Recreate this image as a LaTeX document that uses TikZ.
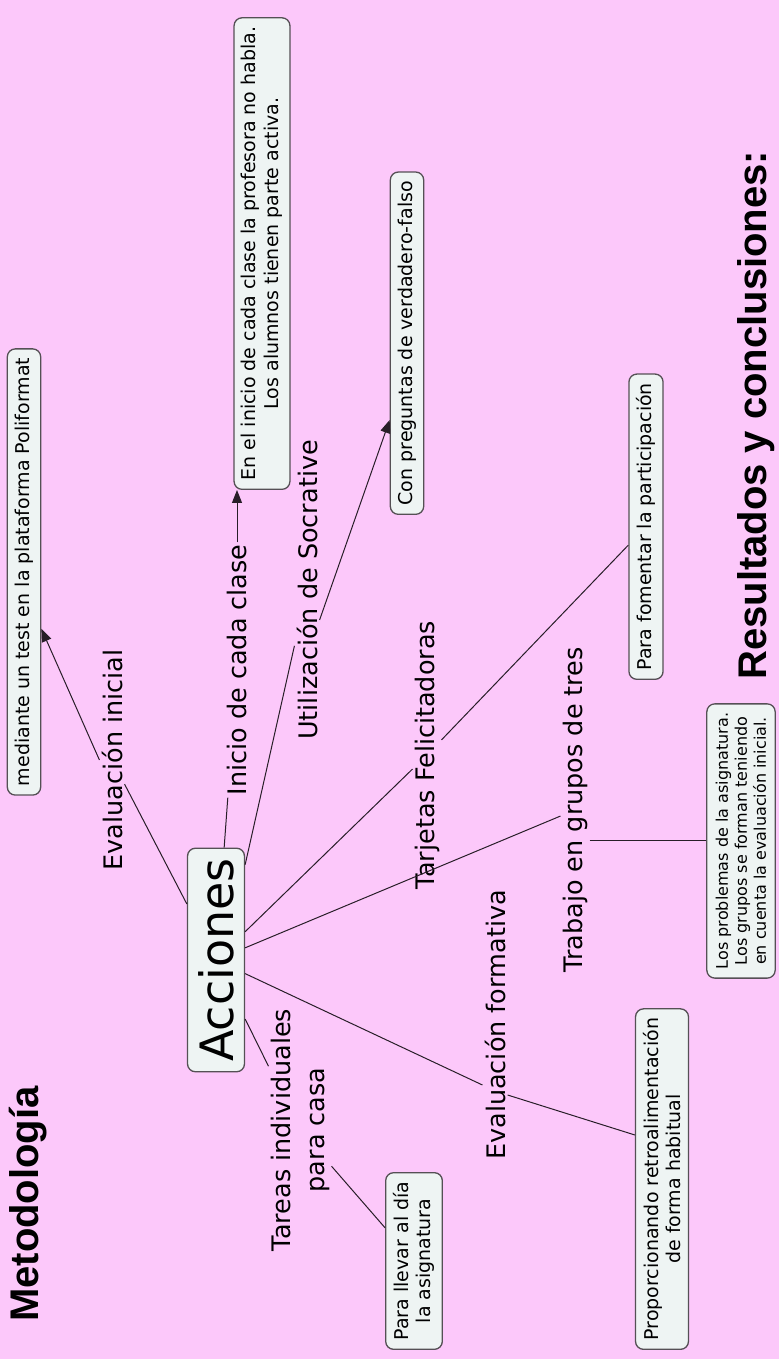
\documentclass[tikz,border=0pt]{standalone}
\usepackage{fontspec}
\setmainfont{DejaVu Sans}
\newfontfamily\headfont{Liberation Sans}
\usetikzlibrary{arrows.meta}
\definecolor{mapbg}{RGB}{252,200,250}
\definecolor{boxfill}{RGB}{238,244,243}
\definecolor{boxline}{RGB}{85,80,85}
\definecolor{linkline}{RGB}{40,30,40}

\begin{document}
\begin{tikzpicture}[x=1pt, y=1pt,
  concept/.style={draw=boxline, fill=boxfill, rounded corners=8pt, line width=1.3pt,
                  align=center, font=\fontsize{19}{22.5}\selectfont,
                  inner xsep=9pt, inner ysep=7.5pt},
  linklabel/.style={align=center, font=\fontsize{25.5}{32}\selectfont, inner sep=2pt},
  heading/.style={font=\headfont\bfseries\fontsize{40}{44}\selectfont, inner sep=0pt},
  link/.style={draw=linkline, line width=1pt},
  arrowlink/.style={link, -{Triangle[length=13pt, width=10pt]}}]
\useasboundingbox[fill=mapbg] (0,0) rectangle (779,1359);
% the map is laid out lying down and turned a quarter turn
\begin{scope}[shift={(779,0)}, rotate=90, every node/.append style={transform shape}]
\node[heading, anchor=west] (metodo) at (37,751) {Metodología};
\node[heading, anchor=west] (result) at (679,23) {Resultados y conclusiones:};

\node[concept, font=\fontsize{46}{50}\selectfont, minimum height=57pt, inner xsep=10pt,
      inner ysep=4pt] (acc) at (399,563) {Acciones};

\node[linklabel] (evi) at (599,667) {Evaluación inicial};
\node[linklabel] (ini) at (689,542) {Inicio de cada clase};
\node[linklabel] (soc) at (769,472) {Utilización de Socrative};
\node[linklabel] (tar) at (604,352) {Tarjetas Felicitadoras};
\node[linklabel] (tra) at (549,204) {Trabajo en grupos de tres};
\node[linklabel] (evf) at (334,284) {Evaluación formativa};
\node[linklabel, font=\fontsize{25.5}{34}\selectfont] (tac) at (229,479)
  {Tareas individuales\\para casa};

\node[concept] (test) at (787,755) {mediante un test en la plataforma Poliformat};
\node[concept, anchor=west] (inicio) at (869,517)
  {En el inicio de cada clase la profesora no habla.\\Los alumnos tienen parte activa.};
\node[concept, anchor=west] (vf) at (844,372) {Con preguntas de verdadero-falso};
\node[concept, anchor=west] (part) at (679,133) {Para fomentar la participación};
\node[concept, font=\fontsize{16}{19}\selectfont, inner ysep=9pt] (prob) at (518,38)
  {Los problemas de la asignatura.\\Los grupos se forman teniendo\\en cuenta la evaluación inicial.};
\node[concept, anchor=west] (retro) at (9,117)
  {Proporcionando retroalimentación\\de forma habitual};
\node[concept, anchor=west] (dia) at (9,365) {Para llevar al día\\la asignatura};

\draw[link] (acc) -- (evi);
\draw[arrowlink] (evi.north) -- ([xshift=167pt]test.south west);
\draw[link] (acc) -- (ini);
\draw[arrowlink] (ini.east) -- (ini.east -| inicio.west);
\draw[link] (acc.-17) -- (soc);
\draw[arrowlink] ([xshift=-30pt]soc.south) -- ([xshift=95pt]vf.north west);
\draw[link] (acc) -- (tar);
\draw[link] (tar) -- (part);
\draw[link] (acc) -- (tra);
\draw[link] (tra.south -| prob) -- (prob.north);
\draw[link] (acc) -- ([xshift=-60pt]evf.north);
\draw[link] ([xshift=-70pt]evf.south) -- ([xshift=215pt]retro.north west);
\draw[link] (acc) -- (tac);
\draw[link] (tac) -- (dia);
\end{scope}
\end{tikzpicture}
\end{document}
